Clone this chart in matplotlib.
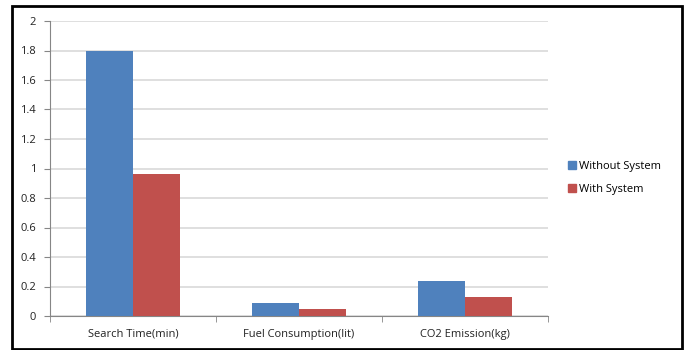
import matplotlib
matplotlib.use('Agg')
import matplotlib.pyplot as plt
from matplotlib.patches import Rectangle, Patch
import numpy as np

categories = ['Search Time(min)', 'Fuel Consumption(lit)', 'CO2 Emission(kg)']
without_system = [1.8, 0.09, 0.24]
with_system = [0.96, 0.045, 0.13]
series_names = ['Without System', 'With System']
colors = ['#4F81BD', '#C0504D']

W, H = 685, 350
plt.rcParams['font.family'] = ['Open Sans', 'DejaVu Sans']

fig = plt.figure(figsize=(W / 100, H / 100), dpi=100)
ax = fig.add_axes([50 / W, 1 - 316 / H, 498 / W, 295 / H])

x = np.arange(len(categories))
bw = 1 / 3.5
ax.bar(x - bw / 2, without_system, bw, color=colors[0], zorder=3)
ax.bar(x + bw / 2, with_system, bw, color=colors[1], zorder=3)

ax.set_xlim(-0.5, len(categories) - 0.5)
ax.set_ylim(0, 2)
ax.set_yticks(np.arange(0, 2.01, 0.2))
ax.set_yticklabels(['0', '0.2', '0.4', '0.6', '0.8', '1', '1.2', '1.4', '1.6', '1.8', '2'])
ax.set_xticks(x)
ax.set_xticklabels(categories)
ax.set_xticks(np.arange(-0.5, len(categories), 1.0), minor=True)
ax.tick_params(axis='x', which='major', length=0, pad=9, labelsize=8, colors='#222222')
ax.tick_params(axis='x', which='minor', length=4, color='#868686', direction='out')
ax.tick_params(axis='y', length=4, color='#868686', pad=6, labelsize=8, labelcolor='#222222')

ax.grid(axis='y', color='#D9D9D9', linewidth=1.2, zorder=0)
for s in ['top', 'right']:
    ax.spines[s].set_visible(False)
ax.spines['left'].set_color('#868686')
ax.spines['bottom'].set_color('#868686')

handles = [Patch(color=c) for c in colors]
fig.legend(handles, series_names, loc='center left', bbox_to_anchor=(558 / W, 1 - 178 / H),
           frameon=False, fontsize=8, handlelength=0.7, handleheight=0.7,
           handletextpad=0.3, labelspacing=1.1)

# black border round the whole chart
fig.patches.append(Rectangle((12 / W, 1 / H), 670 / W, 343 / H, transform=fig.transFigure,
                             fill=False, edgecolor='black', linewidth=2))

fig.savefig('out.png', dpi=100)
